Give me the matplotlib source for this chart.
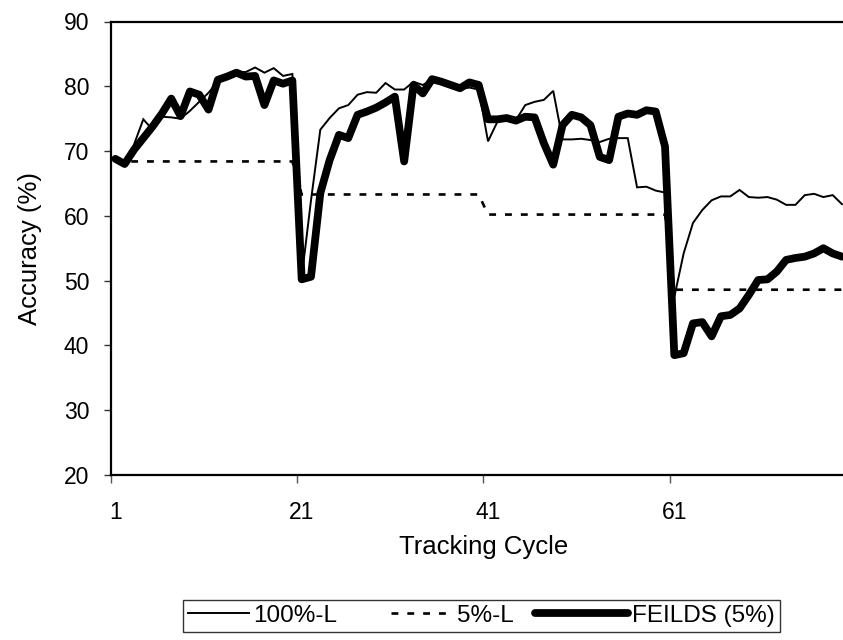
import matplotlib
matplotlib.use("Agg")
import matplotlib.pyplot as plt
from matplotlib.legend_handler import HandlerLine2D
from matplotlib.ticker import FixedLocator, NullFormatter, FixedFormatter

plt.rcParams["font.family"] = ["Liberation Sans", "DejaVu Sans"]

# Tracking cycles 1..79
cycles = list(range(1, 80))

# Accuracy (%) of each method per tracking cycle
full_l = [
    68.8, 68.0, 71.0, 74.9, 73.3, 75.3, 75.2, 75.0, 76.2, 77.6,
    79.0, 80.8, 81.5, 82.2, 82.2, 82.9, 82.1, 82.8, 81.6, 81.9,
    50.5, 62.4, 73.3, 75.1, 76.6, 77.1, 78.7, 79.1, 79.0, 80.5,
    79.5, 79.5, 80.7, 80.2, 81.0, 80.7, 80.3, 79.6, 79.8, 79.5,
    71.5, 74.5, 74.9, 74.8, 77.1, 77.6, 77.9, 79.3, 71.8, 71.8,
    71.9, 71.7, 71.4, 71.9, 72.0, 72.0, 64.4, 64.5, 63.9, 63.6,
    47.5, 54.2, 58.9, 60.9, 62.4, 63.0, 63.0, 64.0, 62.9, 62.8,
    62.9, 62.5, 61.7, 61.7, 63.2, 63.4, 62.9, 63.2, 61.8,
]
five_l = [68.4] * 20 + [63.3] * 20 + [60.2] * 20 + [48.6] * 19
feilds = [
    68.8, 68.0, 70.2, 72.0, 73.8, 75.8, 78.1, 75.4, 79.2, 78.7,
    76.4, 81.0, 81.5, 82.1, 81.5, 81.6, 77.1, 80.9, 80.4, 80.9,
    50.2, 50.6, 63.5, 68.6, 72.5, 72.0, 75.6, 76.1, 76.7, 77.5,
    78.4, 68.4, 80.2, 78.9, 81.1, 80.7, 80.2, 79.7, 80.6, 80.2,
    74.9, 74.9, 75.1, 74.7, 75.3, 75.2, 71.2, 67.9, 74.0, 75.6,
    75.2, 74.0, 69.1, 68.6, 75.3, 75.8, 75.6, 76.3, 76.1, 70.7,
    38.5, 38.8, 43.4, 43.6, 41.4, 44.5, 44.7, 45.7, 47.8, 50.1,
    50.2, 51.4, 53.2, 53.5, 53.7, 54.2, 55.0, 54.2, 53.7,
]

series_names = ["100%-L", "5%-L", "FEILDS (5%)"]
x_labels = ["1", "21", "41", "61"]
y_ticks = [20, 30, 40, 50, 60, 70, 80, 90]


class LongHandle(HandlerLine2D):
    """Legend line sample that reaches further to the left than the handle box."""

    def __init__(self, extra_em=0.0, **kw):
        super().__init__(**kw)
        self.extra_em = extra_em

    def get_xdata(self, legend, xdescent, ydescent, width, height, fontsize):
        xdata, xdata_marker = super().get_xdata(
            legend, xdescent, ydescent, width, height, fontsize)
        xdata = list(xdata)
        xdata[0] = xdata[0] - self.extra_em * fontsize
        return xdata, xdata_marker


W, H = 843, 640
fig = plt.figure(figsize=(W / 100, H / 100), dpi=100)
ax_l, ax_r, ax_t, ax_b = 110.7, 856.0, 21.5, 475.0
ax = fig.add_axes([ax_l / W, 1 - ax_b / H, (ax_r - ax_l) / W, (ax_b - ax_t) / H])

l1, = ax.plot(cycles, full_l, color="black", lw=1.4, solid_joinstyle="miter",
              label=series_names[0], zorder=3)
l2, = ax.plot(cycles, five_l, color="black", lw=1.9, dashes=(2.6, 3.4),
              dash_capstyle="butt", label=series_names[1], zorder=2)
l3, = ax.plot(cycles, feilds, color="black", lw=5.6, solid_joinstyle="round",
              solid_capstyle="round", label=series_names[2], zorder=4)

ax.set_xlim(0.5, 80.5)
ax.set_ylim(20, 90)

# Category boundaries carry the tick marks; labels sit on the categories
ax.xaxis.set_major_locator(FixedLocator([0.5, 20.5, 40.5, 60.5]))
ax.xaxis.set_major_formatter(NullFormatter())
ax.xaxis.set_minor_locator(FixedLocator([int(s) for s in x_labels]))
ax.xaxis.set_minor_formatter(FixedFormatter(x_labels))
ax.tick_params(axis="x", which="major", direction="out", length=5.5, width=1.0,
               color="#555555")
ax.tick_params(axis="x", which="minor", length=0, pad=19, labelsize=16.5)

ax.set_yticks(y_ticks)
ax.tick_params(axis="y", direction="out", length=5, width=1.0, color="#333333",
               pad=10.5, labelsize=16.5)

for side in ("left", "bottom", "top"):
    ax.spines[side].set_linewidth(1.6)
    ax.spines[side].set_color("black")
ax.spines["right"].set_visible(False)

ax.set_xlabel("Tracking Cycle", fontsize=18.5)
ax.set_ylabel("Accuracy (%)", fontsize=18.5)
ax.xaxis.set_label_coords(0.5, (ax_b - 535) / (ax_b - ax_t))
ax.yaxis.set_label_coords((42 - ax_l) / (ax_r - ax_l), 0.5)

leg = fig.legend(handles=[l1, l2, l3], loc="upper left", ncol=3,
                 bbox_to_anchor=(183 / W, 1 - 600 / H), bbox_transform=fig.transFigure,
                 handler_map={l3: LongHandle(extra_em=1.3)},
                 fontsize=17.5, frameon=True, fancybox=False, shadow=False,
                 handlelength=2.5, handletextpad=0.2, columnspacing=2.2,
                 borderpad=0.2, borderaxespad=0)
leg.get_frame().set_edgecolor("black")
leg.get_frame().set_linewidth(1.0)

fig.savefig("out.png", dpi=100, facecolor="white")
